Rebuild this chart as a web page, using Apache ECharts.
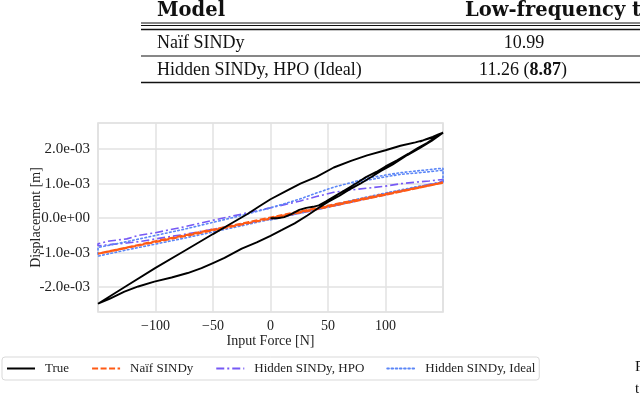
<!DOCTYPE html>
<html>
<head>
    <meta charset="utf-8">
    <title>Hysteresis</title>
    <script src="https://cdn.jsdelivr.net/npm/echarts@6/dist/echarts.min.js"></script>
    <style>
        html, body { margin: 0; padding: 0; background: #fff; }
        #chart { width: 640px; height: 397px; }
    </style>
</head>
<body>
<div id="chart"></div>
<script>
    // 数据（位移单位 1e-3 m）
    var seriesNames = ['True', 'Naïf SINDy', 'Hidden SINDy, HPO', 'Hidden SINDy, Ideal'];
    var xTicks = [-100, -50, 0, 50, 100];
    var yTicks = [-0.002, -0.001, 0, 0.001, 0.002];

    // True: 初始曲线 -> 上支 -> 下支
    var trueForce = [0, 6, 12, 18, 25, 31, 37, 42, 48, 56, 66, 75, 83, 92, 100, 110, 120, 128, 136, 143, 150,
        145, 140, 134, 126, 113, 100, 84, 70, 55, 40, 26, 13, 0, -10, -20, -35, -50, -75, -100, -125, -150,
        -140, -127, -115, -101, -86, -72, -60, -50, -40, -25, -12, 0, 10, 21, 32, 41, 50, 60, 68, 78, 88, 96, 106, 119, 130, 140, 150,
        146, 141, 136, 130];
    var trueDisp = [0, 0.0, 0.03, 0.12, 0.24, 0.3, 0.33, 0.37, 0.48, 0.64, 0.84, 1.02, 1.19, 1.34, 1.5, 1.68, 1.87, 2.03, 2.18, 2.33, 2.48,
        2.41, 2.33, 2.27, 2.2, 2.1, 1.97, 1.82, 1.66, 1.47, 1.2, 1.0, 0.78, 0.55, 0.34, 0.12, -0.17, -0.46, -0.95, -1.44, -1.96, -2.48,
        -2.34, -2.13, -1.98, -1.84, -1.72, -1.59, -1.45, -1.3, -1.15, -0.88, -0.7, -0.51, -0.34, -0.15, 0.08, 0.28, 0.47, 0.65, 0.82, 1.0, 1.2, 1.37, 1.55, 1.83, 2.04, 2.24, 2.48,
        2.43, 2.36, 2.3, 2.22];

    var naifForce = [0, 50, 100, 150, 100, 50, 0, -50, -100, -150, -100, -50, 0, 50, 100, 150];
    var naifDisp = [0, 0.34, 0.68, 1.03, 0.7, 0.36, 0.02, -0.33, -0.67, -1.03, -0.69, -0.35, -0.01, 0.33, 0.68, 1.03];

    var hpoForce = [0, 25, 50, 75, 100, 125, 150,
        150, 138, 125, 113, 100, 84, 70, 55, 40, 26, 13, 0, -25, -50, -75, -100, -115, -125, -140, -150,
        -150, -138, -125, -112, -100, -75, -50, -25, 0, 25, 50, 75, 100, 125, 150];
    var hpoDisp = [-0.02, 0.14, 0.32, 0.5, 0.68, 0.86, 1.05,
        1.12, 1.08, 1.04, 1.0, 0.93, 0.87, 0.82, 0.75, 0.63, 0.5, 0.4, 0.3, 0.12, -0.06, -0.25, -0.42, -0.5, -0.6, -0.66, -0.74,
        -0.8, -0.76, -0.72, -0.67, -0.6, -0.47, -0.32, -0.17, -0.02, 0.15, 0.33, 0.51, 0.7, 0.88, 1.07];

    var idealForce = [0, 25, 50, 75, 100, 125, 150,
        150, 130, 113, 100, 84, 70, 55, 40, 25, 10, 0, -25, -50, -75, -100, -125, -150,
        -150, -125, -100, -75, -50, -25, 0, 25, 50, 75, 100, 125, 150,
        150, 130, 113, 100, 84, 70];
    var idealDisp = [-0.05, 0.14, 0.33, 0.52, 0.7, 0.88, 1.05,
        1.45, 1.38, 1.32, 1.25, 1.16, 1.03, 0.9, 0.73, 0.55, 0.4, 0.3, 0.08, -0.12, -0.32, -0.5, -0.68, -0.85,
        -1.1, -0.92, -0.75, -0.58, -0.4, -0.22, -0.03, 0.16, 0.35, 0.55, 0.73, 0.9, 1.04,
        1.39, 1.32, 1.27, 1.2, 1.1, 0.98];

    var colors = ['#000000', '#ff5a14', '#7659f5', '#5b86f7'];

    function pairs(fx, dy) {
        var out = [];
        for (var i = 0; i < fx.length; i++) {
            out.push([fx[i], dy[i] * 1e-3]);
        }
        return out;
    }

    // 科学计数格式 2.0e-03
    function sciLabel(v) {
        if (Math.abs(v) < 1e-12) return '0.0e+00';
        var e = Math.floor(Math.log10(Math.abs(v)) + 1e-9);
        var m = v / Math.pow(10, e);
        var s = Math.abs(e) < 10 ? '0' + Math.abs(e) : '' + Math.abs(e);
        return m.toFixed(1) + 'e' + (e < 0 ? '-' : '+') + s;
    }

    var serif = 'Liberation Serif';
    var myChart = echarts.init(document.getElementById('chart'), null, {renderer: 'canvas'});

    myChart.setOption({
        animation: false,
        backgroundColor: '#ffffff',
        textStyle: {fontFamily: serif, color: '#222'},
        grid: {
            left: 98, right: 197, top: 123, bottom: 85,
            show: true, borderColor: '#dcdcdc', borderWidth: 1.5
        },
        legend: {
            data: seriesNames,
            left: 2, top: 357,
            padding: [5, 4],
            itemWidth: 28, itemHeight: 12, itemGap: 22,
            itemStyle: {opacity: 0},
            borderColor: '#d9d9d9', borderWidth: 1, borderRadius: 3,
            textStyle: {fontFamily: serif, fontSize: 13, color: '#222', padding: [0, 0, 0, 5]}
        },
        xAxis: {
            type: 'value',
            min: -150, max: 150, interval: 50,
            name: 'Input Force [N]',
            nameLocation: 'middle', nameGap: 22,
            nameMoveOverlap: false,
            nameTextStyle: {fontFamily: serif, fontSize: 14, color: '#222'},
            axisLine: {show: false},
            axisTick: {show: false},
            axisLabel: {
                fontFamily: serif, fontSize: 14, color: '#222', margin: 7,
                showMinLabel: false, showMaxLabel: false,
                formatter: function (v) { return v < 0 ? '\u2212' + Math.abs(v) : '' + v; }
            },
            splitLine: {lineStyle: {color: '#e2e2e2', width: 1.5}}
        },
        yAxis: {
            type: 'value',
            min: -0.00272, max: 0.00276,
            name: 'Displacement [m]',
            nameLocation: 'middle', nameGap: 55,
            nameMoveOverlap: false,
            nameTextStyle: {fontFamily: serif, fontSize: 14, color: '#222'},
            axisLine: {show: false},
            axisTick: {show: false, customValues: yTicks},
            axisLabel: {
                fontFamily: serif, fontSize: 15, color: '#222', margin: 8,
                customValues: yTicks,
                formatter: sciLabel
            },
            splitLine: {lineStyle: {color: '#e2e2e2', width: 1.5}}
        },
        series: [
            {
                name: seriesNames[1], type: 'line', data: pairs(naifForce, naifDisp),
                showSymbol: false, symbol: 'none', color: colors[1],
                lineStyle: {width: 2.2, type: [6, 2.5], color: colors[1]}, z: 3
            },
            {
                name: seriesNames[2], type: 'line', data: pairs(hpoForce, hpoDisp),
                showSymbol: false, symbol: 'none', color: colors[2],
                lineStyle: {width: 1.6, type: [8, 3, 2, 3], color: colors[2]}, z: 2
            },
            {
                name: seriesNames[3], type: 'line', data: pairs(idealForce, idealDisp),
                showSymbol: false, symbol: 'none', color: colors[3],
                lineStyle: {width: 1.6, type: [1.6, 2.6], cap: 'round', color: colors[3]}, z: 2
            },
            {
                name: seriesNames[0], type: 'line', data: pairs(trueForce, trueDisp),
                showSymbol: false, symbol: 'none', color: colors[0],
                lineStyle: {width: 1.9, color: colors[0]}, z: 4
            }
        ],
        graphic: [
            // 表格
            {type: 'text', left: 157, top: 1, style: {text: 'Model', font: 'bold 19.5px "DejaVu Serif"', fill: '#111'}},
            {type: 'text', left: 465, top: 1, style: {text: 'Low-frequency t', font: 'bold 19.5px "DejaVu Serif"', fill: '#111'}},
            {type: 'line', shape: {x1: 141, y1: 23, x2: 640, y2: 23}, style: {stroke: '#111', lineWidth: 1}},
            {type: 'line', shape: {x1: 141, y1: 25.5, x2: 640, y2: 25.5}, style: {stroke: '#111', lineWidth: 1}},
            {type: 'line', shape: {x1: 141, y1: 29.5, x2: 640, y2: 29.5}, style: {stroke: '#111', lineWidth: 1.4}},
            {type: 'text', left: 157, top: 34, style: {text: 'Naïf SINDy', font: '18px "Liberation Serif"', fill: '#111'}},
            {type: 'text', x: 524, y: 34, style: {text: '10.99', font: '18px "Liberation Serif"', fill: '#111', align: 'center'}},
            {type: 'line', shape: {x1: 141, y1: 56, x2: 640, y2: 56}, style: {stroke: '#111', lineWidth: 1.2}},
            {type: 'text', left: 157, top: 61, style: {text: 'Hidden SINDy, HPO (Ideal)', font: '18px "Liberation Serif"', fill: '#111'}},
            {type: 'text', x: 523, y: 61, style: {
                text: '11.26 ({b|8.87})', font: '18px "Liberation Serif"', fill: '#111', align: 'center',
                rich: {b: {fontWeight: 'bold', fontSize: 18, fontFamily: 'Liberation Serif'}}
            }},
            {type: 'line', shape: {x1: 141, y1: 82.5, x2: 640, y2: 82.5}, style: {stroke: '#111', lineWidth: 1.4}},
            // 右侧被截断的说明文字
            {type: 'text', left: 635, top: 360, style: {text: 'F', font: '15px "Liberation Serif"', fill: '#111'}},
            {type: 'text', left: 635, top: 382, style: {text: 't', font: '15px "Liberation Serif"', fill: '#111'}}
        ]
    });
</script>
</body>
</html>
